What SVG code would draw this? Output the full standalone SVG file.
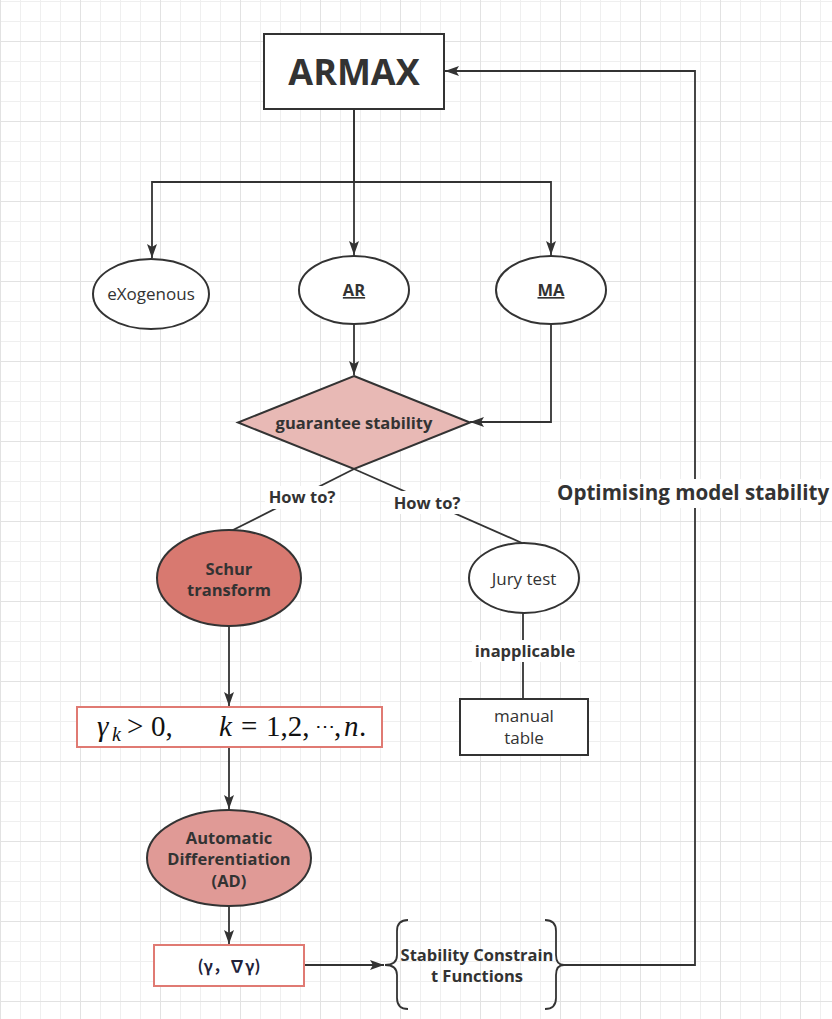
<svg xmlns="http://www.w3.org/2000/svg" width="832" height="1019" viewBox="0 0 832 1019">
<defs>
<pattern id="grid" patternUnits="userSpaceOnUse" x="0" y="41" width="80" height="80">
<path d="M20.5,0V80M40.5,0V80M60.5,0V80M0,20.5H80M0,40.5H80M0,60.5H80" stroke="#efefef" stroke-width="1" fill="none"/>
<path d="M0.5,0V80M0,0.5H80" stroke="#e2e2e2" stroke-width="1" fill="none"/>
</pattern>
<marker id="arr" markerUnits="userSpaceOnUse" markerWidth="16" markerHeight="12" refX="14" refY="5" orient="auto">
<path d="M0,0L14,5L0,10L3,5Z" fill="#333"/>
</marker>
<style>
.n{stroke:#333;stroke-width:2;}
.e{fill:none;stroke:#333;stroke-width:1.8;}
.t{font-family:"Open Sans","Noto Sans",sans-serif;fill:#333;text-anchor:middle;}
.r{font-size:17px;}
.b{font-size:16.5px;font-weight:bold;}
.m{font-family:"Liberation Serif","Times New Roman",serif;font-size:29px;fill:#111;}
.i{font-style:italic;}
</style>
</defs>
<rect width="832" height="1019" fill="#fff"/>
<rect width="832" height="1019" fill="url(#grid)"/>

<g id="connectors">
<path class="e" d="M354,109L354,182L152,182L152,258" marker-end="url(#arr)"/>
<path class="e" d="M354,109L354,255" marker-end="url(#arr)"/>
<path class="e" d="M354,182L551,182L551,255" marker-end="url(#arr)"/>
<path class="e" d="M354,324L354,375" marker-end="url(#arr)"/>
<path class="e" d="M551,324L551,422L470,422" marker-end="url(#arr)"/>
<path class="e" d="M354,469L231,531"/>
<path class="e" d="M354,469L522,543"/>
<path class="e" d="M523,613L523,698"/>
<path class="e" d="M229,627L229,706" marker-end="url(#arr)"/>
<path class="e" d="M229,747L229,809" marker-end="url(#arr)"/>
<path class="e" d="M229,906L229,944" marker-end="url(#arr)"/>
<path class="e" d="M304,965L384,965" marker-end="url(#arr)"/>
<path class="e" d="M564,965L695,965L695,71L445,71" marker-end="url(#arr)"/>
<g id="edge-labels">
<rect x="265" y="486" width="74" height="23" fill="#fff"/>
<text class="t b" x="302" y="503">How to?</text>
<rect x="390" y="491" width="75" height="23" fill="#fff"/>
<text class="t b" x="427" y="509">How to?</text>
<rect x="472" y="640" width="106" height="22" fill="#fff"/>
<text class="t b" x="525" y="657">inapplicable</text>
<rect x="550" y="479" width="282" height="29" fill="#fff"/>
<text class="t" x="557" y="500" style="text-anchor:start;font-size:20.6px;font-weight:bold;">Optimising model stability</text>
</g>
</g>

<g id="armax">
<rect class="n" x="264" y="34" width="180" height="75" fill="#fff"/>
<text class="t" x="354" y="85" style="font-size:36px;font-weight:bold;">ARMAX</text>
</g>
<g id="exogenous">
<ellipse class="n" cx="151" cy="294" rx="58" ry="35" fill="#fff"/>
<text class="t r" x="151" y="300">eXogenous</text>
</g>
<g id="ar">
<ellipse class="n" cx="354" cy="290" rx="55" ry="34" fill="#fff"/>
<text class="t b" x="354" y="296" text-decoration="underline">AR</text>
</g>
<g id="ma">
<ellipse class="n" cx="551" cy="290" rx="55" ry="34" fill="#fff"/>
<text class="t b" x="551" y="296" text-decoration="underline">MA</text>
</g>
<g id="guarantee">
<polygon class="n" points="354,376 470,422.5 354,469 238,422.5" fill="#e8b9b5"/>
<text class="t b" x="354" y="429">guarantee stability</text>
</g>
<g id="schur">
<ellipse class="n" cx="229" cy="578" rx="72" ry="48" fill="#d87970"/>
<text class="t b" x="229" y="575">Schur</text>
<text class="t b" x="229" y="596">transform</text>
</g>
<g id="jury">
<ellipse class="n" cx="524" cy="578" rx="55" ry="35" fill="#fff"/>
<text class="t r" x="524" y="585">Jury test</text>
</g>
<g id="manual">
<rect class="n" x="460" y="699" width="128" height="56" fill="#fff"/>
<text class="t r" x="524" y="722">manual</text>
<text class="t r" x="524" y="744">table</text>
</g>
<g id="formula">
<rect x="77" y="707" width="305" height="40" fill="#fff" stroke="#e07a73" stroke-width="2"/>
<text class="m"><tspan class="i" x="97" y="736">γ</tspan><tspan class="i" x="112" y="741" style="font-size:20px">k</tspan><tspan x="127" y="736">&gt;</tspan><tspan x="151" y="736">0,</tspan><tspan class="i" x="219" y="736">k</tspan><tspan x="241" y="736">=</tspan><tspan x="266" y="736">1,2,</tspan><tspan x="315" y="733" style="font-size:20px">⋯</tspan><tspan x="334" y="736">,</tspan><tspan class="i" x="344" y="736">n</tspan><tspan x="359" y="736">.</tspan></text>
</g>
<g id="ad">
<ellipse class="n" cx="229" cy="858" rx="82" ry="48" fill="#e09a96"/>
<text class="t b" x="229" y="844">Automatic</text>
<text class="t b" x="229" y="865">Differentiation</text>
<text class="t b" x="229" y="887">(AD)</text>
</g>
<g id="gamma">
<rect x="154" y="945" width="150" height="41" fill="#fff" stroke="#e07a73" stroke-width="2"/>
<text x="229" y="972" style="font-family:'Noto Sans CJK SC','Noto Sans',sans-serif;font-size:16px;font-weight:bold;fill:#22223a;text-anchor:middle;">(γ，∇γ)</text>
</g>
<g id="constraint">
<path class="e" d="M408,920Q397,920 397,931L397,955Q397,965 385,965Q397,965 397,975L397,998Q397,1009 408,1009"/>
<path class="e" d="M545,920Q556,920 556,931L556,955Q556,965 564,965Q556,965 556,975L556,998Q556,1009 545,1009"/>
<text class="t b" x="477" y="961">Stability Constrain</text>
<text class="t b" x="477" y="982">t Functions</text>
</g>
</svg>
